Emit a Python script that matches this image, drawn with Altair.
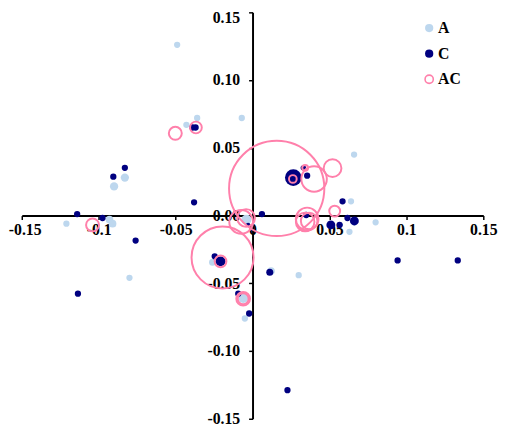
import altair as alt
import pandas as pd

# ---- data ----
series_names = ["A", "C", "AC"]

a_x = [-0.049, -0.043, -0.036, -0.007, -0.090, -0.083, 0.066, 0.064, -0.121,
       -0.093, -0.091, -0.080, -0.004, -0.026, -0.006, -0.005, 0.080, 0.063,
       0.066, 0.012, 0.030]
a_y = [0.126, 0.067, 0.072, 0.072, 0.0215, 0.028, 0.045, 0.0105, -0.006,
       -0.003, -0.006, -0.046, -0.003, -0.0345, -0.061, -0.076, -0.005, -0.012,
       -0.005, -0.041, -0.044]
a_w = [0.004, 0.004, 0.004, 0.004, 0.007, 0.007, 0.004, 0.004, 0.004,
       0.006, 0.006, 0.004, 0.010, 0.005, 0.009, 0.004, 0.004, 0.004,
       0.004, 0.006, 0.004]

c_x = [-0.038, -0.0905, -0.083, -0.039, -0.037, -0.114, -0.0975, -0.076, -0.1135,
       -0.0246, -0.0208, -0.0093, -0.0022, 0.0061, -0.0029, 0.0265, 0.033, 0.0355,
       0.0585, 0.0617, 0.0662, 0.0509, 0.0566, 0.0943, 0.1334, 0.0227, 0.0112, 0.0349]
c_y = [0.0098, 0.0287, 0.0352, 0.065, 0.065, 0.0011, -0.0018, -0.0185, -0.0577,
       -0.0301, -0.0338, -0.0577, -0.0723, 0.0011, -0.0069, 0.028, 0.0352, 0.0294,
       0.0105, -0.0018, -0.004, -0.0069, -0.0069, -0.0331, -0.0331, -0.1289, -0.0418, 0.0004]
c_w = [0.004, 0.004, 0.004, 0.004, 0.004, 0.004, 0.004, 0.004, 0.004,
       0.004, 0.010, 0.004, 0.004, 0.004, 0.002, 0.028, 0.003, 0.004,
       0.004, 0.004, 0.008, 0.008, 0.004, 0.004, 0.004, 0.004, 0.005, 0.004]

ac_x = [-0.0502, -0.0368, 0.0157, 0.0262, 0.0342, 0.040, 0.052, 0.0534, 0.0355,
        0.0368, 0.0342, -0.0074, -0.0042, -0.0195, -0.0208, -0.0061, -0.0061, -0.104]
ac_y = [0.0607, 0.065, 0.020, 0.027, 0.0352, 0.027, 0.035, 0.0033, -0.0025,
        -0.004, -0.0047, -0.0047, -0.0018, -0.0309, -0.0338, -0.0614, -0.0614, -0.0069]
ac_w = [0.017, 0.014, 0.92, 0.006, 0.0035, 0.066, 0.032, 0.012, 0.052,
        0.028, 0.035, 0.057, 0.032, 0.39, 0.014, 0.019, 0.012, 0.017]

x_ticks = [-0.15, -0.1, -0.05, 0, 0.05, 0.1, 0.15]
y_ticks = [0.15, 0.10, 0.05, 0.0, -0.05, -0.10, -0.15]

rows = []
for name, xs, ys, ws in [("A", a_x, a_y, a_w), ("C", c_x, c_y, c_w), ("AC", ac_x, ac_y, ac_w)]:
    for x, y, w in zip(xs, ys, ws):
        rows.append({"series": name, "x": x, "y": y, "w": w})
df = pd.DataFrame(rows)

W, H = 469, 413
FONT = "Liberation Serif, Times New Roman, serif"

legend = alt.Legend(
    orient="none", legendX=406, legendY=8, title=None, padding=0,
    labelFont=FONT, labelFontSize=16, labelFontWeight="bold", labelColor="black",
    symbolType="circle", symbolSize=70, symbolStrokeWidth=1.6,
    rowPadding=10, labelOffset=1,
)

axis_common = dict(
    grid=False, title=None, domainColor="black", domainWidth=2,
    tickColor="black", tickWidth=1.5, tickSize=4,
    labelFont=FONT, labelFontSize=16, labelFontWeight="bold", labelColor="black",
    labelFlush=False, labelOverlap=False,
)

chart = alt.Chart(df).mark_point(shape="circle", strokeWidth=2, opacity=1, filled=False).encode(
    x=alt.X("x:Q", scale=alt.Scale(domain=[-0.15, 0.15], nice=False, zero=False),
            axis=alt.Axis(values=x_ticks, offset=-H / 2, labelPadding=2,
                          labelExpr="replace(format(datum.value, '~g'), '\u2212', '-')",
                          labelOffset={"condition": {"test": "datum.value < -0.14", "value": 3}, "value": 0},
                          **axis_common)),
    y=alt.Y("y:Q", scale=alt.Scale(domain=[-0.15, 0.15], nice=False, zero=False),
            axis=alt.Axis(values=y_ticks, offset=-W / 2, labelPadding=9,
                          labelExpr="replace(format(datum.value, '.2f'), '\u2212', '-')",
                          labelOffset={"condition": {"test": "datum.value > 0.14", "value": 5}, "value": 0},
                          **axis_common)),
    fill=alt.Fill("series:N", title=None,
                  scale=alt.Scale(domain=series_names, range=["#BDD7EE", "#000080", "transparent"]),
                  legend=legend),
    stroke=alt.Stroke("series:N", title=None,
                      scale=alt.Scale(domain=series_names, range=["transparent", "transparent", "#FF80AB"]),
                      legend=legend),
    size=alt.Size("w:Q", scale=alt.Scale(domain=[0, 1], range=[0, 10186]), legend=None),
).properties(
    width=W, height=H,
    autosize=alt.AutoSizeParams(type="none"),
    padding={"left": 14, "top": 1, "right": 19, "bottom": 8},
).configure_view(stroke=None)

chart.save("out.html", embed_options={"renderer": "svg", "actions": False})
